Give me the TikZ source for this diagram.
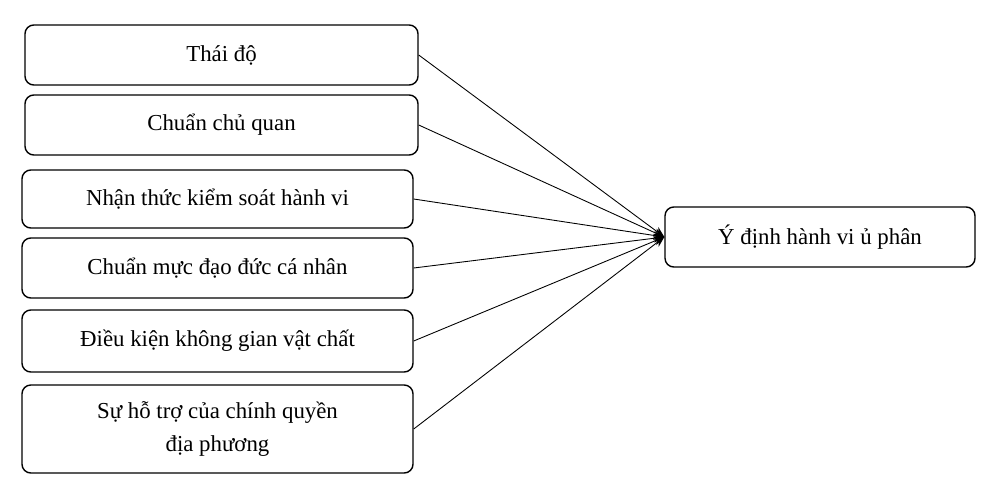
\documentclass[tikz,border=0pt]{standalone}
\usepackage{fontspec}
\setmainfont{Liberation Serif}
\usetikzlibrary{arrows.meta}
\begin{document}
\begin{tikzpicture}[x=0.02cm,y=-0.02cm,
 box/.style={draw,thick,rounded corners=5pt,align=center,font=\fontsize{13}{19}\selectfont},
 arr/.style={-{Stealth[length=6pt,width=5pt]},line width=0.5pt}]
\useasboundingbox (0,0) rectangle (1000,497);
\node[box,minimum width=393*0.02cm,minimum height=60*0.02cm] (a) at (221.5,55) {Thái độ};
\node[box,minimum width=393*0.02cm,minimum height=60*0.02cm] (b) at (221.5,125) {Chuẩn chủ quan};
\node[box,minimum width=391*0.02cm,minimum height=58*0.02cm] (c) at (217.5,199) {Nhận thức kiểm soát hành vi};
\node[box,minimum width=391*0.02cm,minimum height=60*0.02cm] (d) at (217.5,268) {Chuẩn mực đạo đức cá nhân};
\node[box,minimum width=391*0.02cm,minimum height=62*0.02cm] (e) at (217.5,341) {Điều kiện không gian vật chất};
\node[box,minimum width=391*0.02cm,minimum height=88*0.02cm] (f) at (217.5,429) {Sự hỗ trợ của chính quyền\\địa phương};
\node[box,minimum width=310*0.02cm,minimum height=60*0.02cm] (g) at (820,237) {Ý định hành vi ủ phân};
\foreach \n in {a,b,c,d,e,f} \draw[arr] (\n.east) -- (g.west);
\end{tikzpicture}
\end{document}
